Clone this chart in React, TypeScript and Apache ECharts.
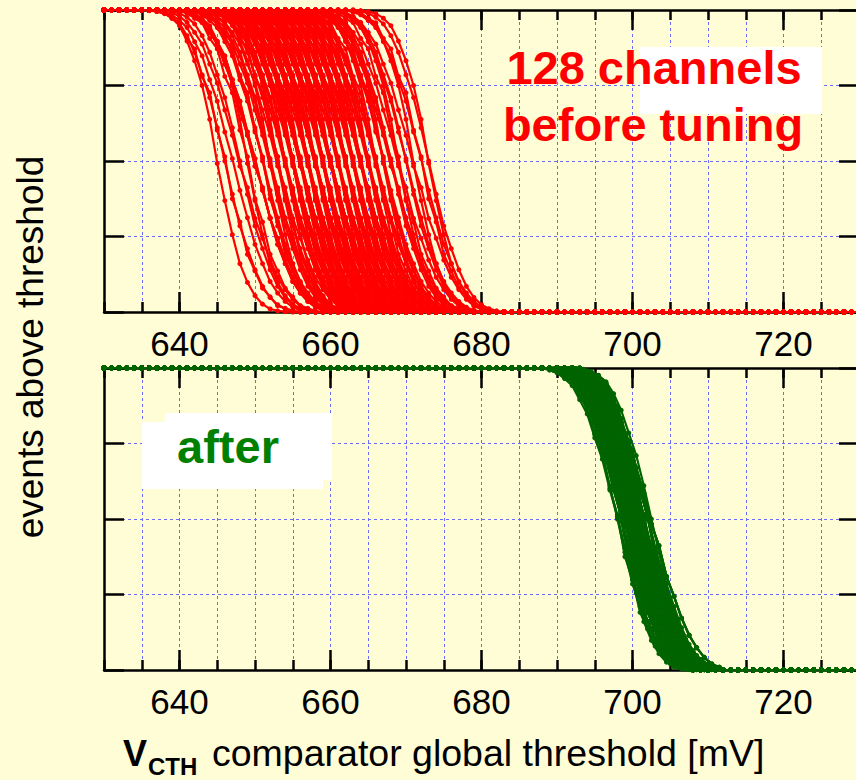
import React, { useEffect, useRef } from 'react';
import * as echarts from 'echarts';

const FONT = '"Liberation Sans", Arial, Helvetica, sans-serif';
const BG = '#FFFDD6';
const RED = '#FF0000';
const GREEN_LINE = '#006400';
const GREEN_TEXT = '#008000';
const GRID_BLUE = '#6A6AFF';

// threshold axis [mV]
const X_MIN = 630;
const X_MAX = 730;
const X_STEP = 5;
const X_LABELS = [640, 660, 680, 700, 720];

// events above threshold (relative, %)
const Y_MIN = 0;
const Y_MAX = 100;
const Y_STEP = 25;

// offsets [mV] around a channel's 50% point where the S-curve is sampled
const PROFILE_OFFSETS = [-9, -8, -7, -6, -5, -4, -3, -2, -1, 0, 1, 2, 3, 4, 5, 6, 7, 8, 9];

// measured S-curve shapes (percent of injected events) at those offsets
const PROFILES: number[][] = [
  [99.6, 98.9, 97.6, 95.4, 91.5, 86.0, 78.5, 71.0, 61.0, 50.0, 39.0, 28.5, 21.0, 14.0, 8.5, 4.8, 2.4, 1.1, 0.4],
  [99.3, 98.4, 96.5, 94.2, 89.5, 84.8, 76.9, 69.8, 59.6, 50.8, 40.3, 31.2, 22.4, 16.0, 10.1, 6.3, 3.5, 1.6, 0.6],
  [99.8, 99.5, 98.8, 97.3, 94.8, 89.7, 83.2, 75.0, 63.8, 49.2, 36.9, 25.6, 16.0, 9.8, 5.4, 2.6, 1.0, 0.4, 0.1],
  [99.1, 97.9, 95.9, 92.6, 88.7, 82.1, 75.8, 66.9, 58.5, 48.3, 41.2, 31.0, 24.4, 17.2, 11.5, 7.4, 4.2, 2.0, 0.9],
  [99.5, 99.0, 97.2, 95.8, 90.6, 87.1, 78.0, 72.6, 60.2, 51.4, 37.5, 29.8, 19.1, 13.6, 7.9, 5.0, 2.1, 1.2, 0.3],
];

// 50% thresholds [mV] of the 128 channels before tuning
const RED_THRESHOLDS = [
  645, 646, 646, 647, 648, 648, 649, 649, 650, 650, 650, 651, 651, 651, 652, 652,
  652, 652, 653, 653, 653, 653, 654, 654, 654, 654, 654, 655, 655, 655, 655, 655,
  655, 656, 656, 656, 656, 656, 656, 657, 657, 657, 657, 657, 657, 657, 658, 658,
  658, 658, 658, 658, 658, 659, 659, 659, 659, 659, 659, 659, 660, 660, 660, 660,
  660, 660, 660, 661, 661, 661, 661, 661, 661, 662, 662, 662, 662, 662, 662, 663,
  663, 663, 663, 663, 664, 664, 664, 664, 664, 665, 665, 665, 665, 665, 666, 666,
  666, 666, 667, 667, 667, 667, 668, 668, 668, 669, 669, 669, 670, 670, 671, 671,
  672, 672, 673, 673, 653, 656, 659, 661, 663, 658, 660, 657, 662, 655, 664, 650,
];
const RED_SHAPES = [
  2, 0, 4, 1, 3, 0, 2, 4, 1, 3, 3, 0, 1, 4, 2, 0,
  1, 3, 0, 2, 4, 4, 1, 0, 3, 2, 0, 1, 4, 3, 2, 1,
  0, 4, 2, 3, 1, 0, 3, 4, 2, 1, 0, 2, 3, 4, 1, 3,
  2, 0, 1, 4, 3, 2, 0, 1, 4, 2, 3, 0, 1, 3, 4, 0,
  2, 1, 3, 0, 4, 2, 1, 3, 0, 4, 1, 2, 0, 3, 4, 1,
  3, 2, 4, 0, 1, 3, 2, 4, 0, 2, 1, 4, 3, 0, 2, 1,
  4, 3, 0, 1, 2, 4, 3, 0, 1, 2, 3, 4, 0, 1, 2, 3,
  4, 1, 0, 2, 3, 1, 4, 0, 2, 3, 1, 0, 4, 2, 3, 1,
];

// 50% thresholds [mV] of the same channels after tuning
const GREEN_THRESHOLDS = [
  700, 700.5, 699.5, 701, 700, 699, 700.5, 701.5, 700, 699.5, 700.5, 698.5, 701, 700, 702, 700.5,
  699.5, 700, 701, 700.5, 699, 701.5, 700, 700.5, 699.5, 702.5, 700, 701, 698, 700.5, 699.5, 701,
  700, 700.5, 699, 701.5, 700, 700.5, 699.5, 701, 702, 700, 698.5, 700.5, 701, 699.5, 700, 701.5,
  700.5, 699, 700, 701, 699.5, 700.5, 702, 700, 701.5, 699.5, 700.5, 698.5, 701, 700, 699, 700.5,
  701, 700, 699.5, 700.5, 702.5, 700, 701.5, 699, 700.5, 701, 699.5, 700, 698, 700.5, 701, 702,
  699.5, 700.5, 700, 701.5, 699, 700.5, 701, 700, 698.5, 699.5, 700.5, 701, 702, 700, 699.5, 700.5,
  701.5, 700, 699, 700.5, 701, 699.5, 700, 702.5, 700.5, 698.5, 701, 700, 699.5, 701.5, 700.5, 699,
  700, 701, 698, 700.5, 699.5, 702, 700, 701.5, 700.5, 699, 701, 698.5, 700, 702.5, 699.5, 700.5,
];
const GREEN_SHAPES = [
  1, 3, 0, 2, 4, 0, 1, 3, 2, 4, 0, 1, 2, 3, 4, 2,
  0, 4, 1, 3, 2, 0, 4, 1, 3, 0, 2, 4, 1, 2, 3, 0,
  4, 2, 3, 1, 0, 4, 2, 0, 1, 3, 4, 2, 0, 1, 3, 4,
  3, 1, 2, 0, 4, 3, 1, 2, 0, 4, 3, 1, 2, 0, 4, 3,
  0, 2, 4, 1, 3, 0, 2, 4, 1, 3, 0, 2, 4, 1, 3, 0,
  2, 3, 1, 4, 0, 2, 3, 1, 4, 0, 2, 3, 1, 4, 0, 2,
  1, 0, 3, 2, 4, 1, 0, 3, 2, 4, 1, 0, 3, 2, 4, 1,
  4, 2, 0, 3, 1, 4, 2, 0, 3, 1, 4, 2, 0, 3, 1, 4,
];

// One channel's scan: full plateau on the left, measured shape around
// the threshold, zero counts on the right. DAC scanned in 1 mV steps.
function channelCurve(threshold: number, profile: number[]): [number, number][] {
  const pts: [number, number][] = [];
  const first = threshold + PROFILE_OFFSETS[0];
  const last = threshold + PROFILE_OFFSETS[PROFILE_OFFSETS.length - 1];
  for (let x = X_MIN; x < first; x += 1) pts.push([x, Y_MAX]);
  PROFILE_OFFSETS.forEach((d, i) => pts.push([threshold + d, profile[i]]));
  for (let x = Math.floor(last) + 1; x <= X_MAX; x += 1) pts.push([x, Y_MIN]);
  return pts;
}

const AXIS_LINE = { show: true, onZero: false, lineStyle: { color: '#000', width: 2.5 } };
const NO_LINE = { show: false, onZero: false };
const TICK_STYLE = { color: '#000', width: 2.5 };
const DASH = { color: GRID_BLUE, width: 1, type: [3, 3] as number[] };

function xAxesFor(gridIndex: number) {
  const base = { type: 'value', gridIndex, min: X_MIN, max: X_MAX, interval: X_STEP, silent: true };
  const majorTick = { show: true, inside: true, length: 20, customValues: X_LABELS, lineStyle: TICK_STYLE };
  const minorTick = { show: true, inside: true, length: 10, lineStyle: TICK_STYLE };
  return [
    {
      ...base,
      position: 'bottom',
      axisLine: AXIS_LINE,
      axisTick: majorTick,
      axisLabel: {
        show: true,
        customValues: X_LABELS,
        margin: 14,
        fontSize: 35,
        color: '#000',
        fontFamily: FONT,
      },
      splitLine: { show: false },
    },
    { ...base, position: 'bottom', axisLine: NO_LINE, axisTick: minorTick, axisLabel: { show: false }, splitLine: { show: true, lineStyle: DASH } },
    { ...base, position: 'top', axisLine: AXIS_LINE, axisTick: majorTick, axisLabel: { show: false }, splitLine: { show: false } },
    { ...base, position: 'top', axisLine: NO_LINE, axisTick: minorTick, axisLabel: { show: false }, splitLine: { show: false } },
  ];
}

function yAxesFor(gridIndex: number) {
  const base = { type: 'value', gridIndex, min: Y_MIN, max: Y_MAX, interval: Y_STEP, silent: true, axisLabel: { show: false } };
  const tick = { show: true, inside: true, length: 20, lineStyle: TICK_STYLE };
  return [
    { ...base, position: 'left', axisLine: AXIS_LINE, axisTick: tick, splitLine: { show: true, lineStyle: DASH } },
    { ...base, position: 'right', axisLine: AXIS_LINE, axisTick: tick, splitLine: { show: false } },
  ];
}

function curveSeries(thresholds: number[], shapes: number[], color: string, xAxisIndex: number, yAxisIndex: number) {
  return thresholds.map((t, i) => ({
    type: 'line',
    xAxisIndex,
    yAxisIndex,
    data: channelCurve(t, PROFILES[shapes[i]]),
    symbol: 'circle',
    symbolSize: 5,
    showSymbol: true,
    clip: false,
    silent: true,
    lineStyle: { color, width: 2.2 },
    itemStyle: { color },
    z: 3,
  }));
}

export default function App() {
  const ref = useRef<HTMLDivElement>(null);

  useEffect(() => {
    if (!ref.current) return;
    const chart = echarts.init(ref.current, undefined, { renderer: 'svg' });
    const gridCommon = { left: 104, width: 755, height: 302, containLabel: false, outerBoundsMode: 'none' };

    chart.setOption({
      animation: false,
      backgroundColor: BG,
      grid: [
        { ...gridCommon, top: 10 },
        { ...gridCommon, top: 368 },
      ],
      xAxis: [...xAxesFor(0), ...xAxesFor(1)],
      yAxis: [...yAxesFor(0), ...yAxesFor(1)],
      series: [
        ...curveSeries(RED_THRESHOLDS, RED_SHAPES, RED, 0, 0),
        ...curveSeries(GREEN_THRESHOLDS, GREEN_SHAPES, GREEN_LINE, 4, 2),
      ],
      graphic: [
        { type: 'rect', z: 1, shape: { x: 640, y: 47, width: 182, height: 67 }, style: { fill: '#FFFFFF' } },
        {
          type: 'polygon',
          z: 1,
          shape: {
            points: [[165, 413], [332, 413], [332, 480], [323, 480], [323, 489], [142, 489], [142, 422], [165, 422]],
          },
          style: { fill: '#FFFFFF' },
        },
        {
          type: 'text', z: 10, x: 654, y: 67,
          style: { text: '128 channels', fill: RED, font: `bold 47px ${FONT}`, textAlign: 'center', textVerticalAlign: 'middle' },
        },
        {
          type: 'text', z: 10, x: 653, y: 124,
          style: { text: 'before tuning', fill: RED, font: `bold 47px ${FONT}`, textAlign: 'center', textVerticalAlign: 'middle' },
        },
        {
          type: 'text', z: 10, x: 228, y: 446,
          style: { text: 'after', fill: GREEN_TEXT, font: `bold 47px ${FONT}`, textAlign: 'center', textVerticalAlign: 'middle' },
        },
        {
          type: 'text', z: 10, x: 30, y: 347, rotation: Math.PI / 2,
          style: { text: 'events above threshold', fill: '#000', font: `37px ${FONT}`, textAlign: 'center', textVerticalAlign: 'middle' },
        },
        {
          type: 'text', z: 10, x: 123, y: 753,
          style: { text: 'V', fill: '#000', font: `bold 36px ${FONT}`, textAlign: 'left', textVerticalAlign: 'middle' },
        },
        {
          type: 'text', z: 10, x: 148, y: 766,
          style: { text: 'CTH', fill: '#000', font: `bold 24px ${FONT}`, textAlign: 'left', textVerticalAlign: 'middle' },
        },
        {
          type: 'text', z: 10, x: 212, y: 753,
          style: { text: 'comparator global threshold [mV]', fill: '#000', font: `37.5px ${FONT}`, textAlign: 'left', textVerticalAlign: 'middle' },
        },
      ],
    });

    return () => chart.dispose();
  }, []);

  return <div ref={ref} style={{ position: 'absolute', left: 0, top: 0, width: 856, height: 780 }} />;
}
